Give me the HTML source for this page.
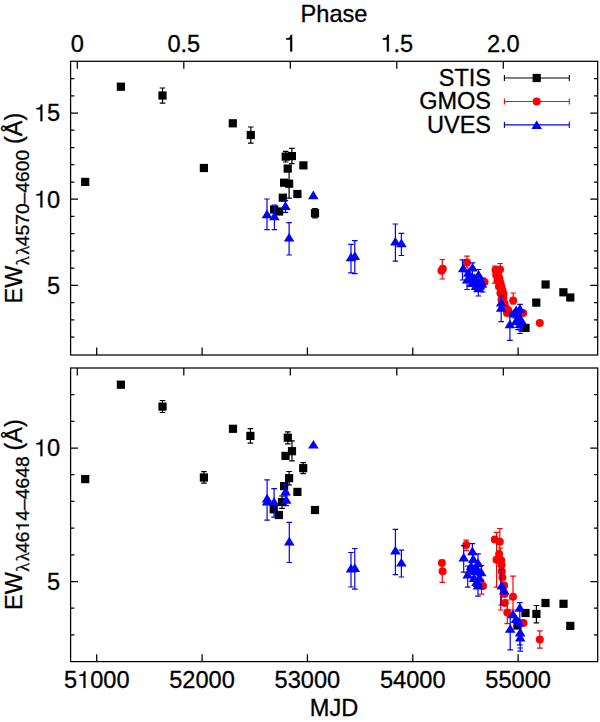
<!DOCTYPE html>
<html><head><meta charset="utf-8"><title>EW vs MJD</title>
<style>html,body{margin:0;padding:0;background:#fff}svg{display:block}</style>
</head><body>
<svg width="600" height="722" viewBox="0 0 600 722">
<rect width="600" height="722" fill="#fff"/>
<g fill="#000" stroke="none">
<path fill="none" stroke="#000" stroke-width="1.2" d="M162.5 88.0V103.2M159.7 88.0h5.6M159.7 103.2h5.6M250.8 127.0V143.2M248.0 127.0h5.6M248.0 143.2h5.6M285.7 151.3V162.0M282.9 151.3h5.6M282.9 162.0h5.6M291.9 148.3V163.6M289.1 148.3h5.6M289.1 163.6h5.6M289.1 170.7V198.2M286.3 170.7h5.6M286.3 198.2h5.6M315.1 208.7V217.8M312.2 208.7h5.6M312.2 217.8h5.6"/>
<rect x="81.1" y="177.8" width="8.2" height="8.2"/>
<rect x="116.8" y="82.6" width="8.2" height="8.2"/>
<rect x="158.4" y="91.4" width="8.2" height="8.2"/>
<rect x="199.8" y="163.9" width="8.2" height="8.2"/>
<rect x="228.7" y="119.2" width="8.2" height="8.2"/>
<rect x="246.7" y="130.9" width="8.2" height="8.2"/>
<rect x="281.6" y="152.5" width="8.2" height="8.2"/>
<rect x="287.8" y="152.0" width="8.2" height="8.2"/>
<rect x="299.3" y="161.3" width="8.2" height="8.2"/>
<rect x="283.6" y="164.5" width="8.2" height="8.2"/>
<rect x="280.0" y="178.6" width="8.2" height="8.2"/>
<rect x="285.0" y="179.6" width="8.2" height="8.2"/>
<rect x="293.3" y="189.9" width="8.2" height="8.2"/>
<rect x="278.7" y="193.6" width="8.2" height="8.2"/>
<rect x="270.0" y="205.4" width="8.2" height="8.2"/>
<rect x="275.0" y="207.4" width="8.2" height="8.2"/>
<rect x="310.9" y="209.1" width="8.2" height="8.2"/>
<rect x="541.5" y="280.4" width="8.2" height="8.2"/>
<rect x="532.2" y="298.5" width="8.2" height="8.2"/>
<rect x="521.4" y="323.8" width="8.2" height="8.2"/>
<rect x="559.3" y="288.2" width="8.2" height="8.2"/>
<rect x="566.2" y="293.4" width="8.2" height="8.2"/>
</g>
<g fill="#f00" stroke="none">
<path fill="none" stroke="#f00" stroke-width="1.2" d="M442.3 259.5V279.0M439.5 259.5h5.6M439.5 279.0h5.6M467.0 256.2V268.0M464.2 256.2h5.6M464.2 268.0h5.6M500.2 263.5V276.0M497.4 263.5h5.6M497.4 276.0h5.6M494.6 266.0V283.2M491.8 266.0h5.6M491.8 283.2h5.6M513.2 293.0V304.0M510.4 293.0h5.6M510.4 304.0h5.6"/>
<circle cx="442.8" cy="268.7" r="4.0"/>
<circle cx="441.5" cy="270.8" r="4.0"/>
<circle cx="467.0" cy="262.5" r="4.0"/>
<circle cx="484.5" cy="282.0" r="4.0"/>
<circle cx="495.5" cy="270.0" r="4.0"/>
<circle cx="500.0" cy="269.5" r="4.0"/>
<circle cx="498.0" cy="275.0" r="4.0"/>
<circle cx="499.5" cy="279.0" r="4.0"/>
<circle cx="500.5" cy="283.0" r="4.0"/>
<circle cx="501.5" cy="287.0" r="4.0"/>
<circle cx="502.5" cy="290.5" r="4.0"/>
<circle cx="503.5" cy="294.0" r="4.0"/>
<circle cx="503.2" cy="298.5" r="4.0"/>
<circle cx="504.5" cy="303.5" r="4.0"/>
<circle cx="506.0" cy="308.0" r="4.0"/>
<circle cx="508.3" cy="310.3" r="4.0"/>
<circle cx="507.0" cy="313.0" r="4.0"/>
<circle cx="513.2" cy="300.5" r="4.0"/>
<circle cx="523.2" cy="313.0" r="4.0"/>
<circle cx="539.8" cy="322.9" r="4.0"/>
<circle cx="496.2" cy="275.0" r="4.0"/>
<circle cx="497.4" cy="280.5" r="4.0"/>
<circle cx="498.9" cy="286.5" r="4.0"/>
<circle cx="500.4" cy="293.0" r="4.0"/>
<circle cx="501.5" cy="299.5" r="4.0"/>
<circle cx="502.3" cy="304.0" r="4.0"/>
</g>
<g fill="#00f" stroke="none">
<path fill="none" stroke="#00f" stroke-width="1.2" d="M267.0 199.0V229.7M264.2 199.0h5.6M264.2 229.7h5.6M274.4 205.0V229.7M271.6 205.0h5.6M271.6 229.7h5.6M285.4 200.7V212.3M282.6 200.7h5.6M282.6 212.3h5.6M289.1 222.6V255.0M286.3 222.6h5.6M286.3 255.0h5.6M351.0 244.3V272.8M348.2 244.3h5.6M348.2 272.8h5.6M354.8 240.6V273.7M352.0 240.6h5.6M352.0 273.7h5.6M395.4 224.0V261.1M392.6 224.0h5.6M392.6 261.1h5.6M401.4 233.4V255.5M398.6 233.4h5.6M398.6 255.5h5.6M462.5 259.8V280.0M459.7 259.8h5.6M459.7 280.0h5.6M472.5 262.8V275.0M469.7 262.8h5.6M469.7 275.0h5.6M467.0 272.0V289.5M464.2 272.0h5.6M464.2 289.5h5.6M478.5 269.5V284.0M475.7 269.5h5.6M475.7 284.0h5.6M478.3 280.0V296.0M475.5 280.0h5.6M475.5 296.0h5.6M483.0 278.0V292.0M480.2 278.0h5.6M480.2 292.0h5.6M501.2 296.0V321.6M498.4 296.0h5.6M498.4 321.6h5.6M509.9 312.0V340.3M507.1 312.0h5.6M507.1 340.3h5.6M520.1 304.3V333.5M517.3 304.3h5.6M517.3 333.5h5.6M518.0 310.0V329.7M515.2 310.0h5.6M515.2 329.7h5.6M521.0 312.0V331.0M518.2 312.0h5.6M518.2 331.0h5.6"/>
<path d="M267.0 209.6L272.3 218.2H261.7Z"/>
<path d="M274.4 211.6L279.7 220.2H269.1Z"/>
<path d="M285.4 201.2L290.7 209.9H280.1Z"/>
<path d="M289.1 232.9L294.4 241.6H283.8Z"/>
<path d="M313.3 190.6L318.6 199.2H308.0Z"/>
<path d="M351.0 252.6L356.3 261.2H345.7Z"/>
<path d="M354.8 251.2L360.1 259.9H349.5Z"/>
<path d="M395.4 236.9L400.7 245.6H390.1Z"/>
<path d="M401.4 238.6L406.7 247.2H396.1Z"/>
<path d="M463.2 263.6L468.5 272.3H457.9Z"/>
<path d="M472.5 262.9L477.8 271.6H467.2Z"/>
<path d="M467.2 274.9L472.5 283.6H461.9Z"/>
<path d="M468.3 268.1L473.6 276.7H463.0Z"/>
<path d="M470.6 271.6L475.9 280.3H465.3Z"/>
<path d="M478.5 269.9L483.8 278.5H473.2Z"/>
<path d="M474.3 273.2L479.6 281.9H469.0Z"/>
<path d="M476.5 276.8L481.8 285.4H471.2Z"/>
<path d="M472.0 278.2L477.3 286.9H466.7Z"/>
<path d="M481.0 276.2L486.3 284.9H475.7Z"/>
<path d="M478.5 283.6L483.8 292.2H473.2Z"/>
<path d="M482.0 279.1L487.3 287.7H476.7Z"/>
<path d="M476.0 281.2L481.3 289.9H470.7Z"/>
<path d="M480.0 280.9L485.3 289.5H474.7Z"/>
<path d="M501.2 297.9L506.5 306.6H495.9Z"/>
<path d="M501.2 303.1L506.5 311.8H495.9Z"/>
<path d="M509.9 319.6L515.2 328.2H504.6Z"/>
<path d="M519.9 304.1L525.2 312.7H514.6Z"/>
<path d="M516.2 305.6L521.5 314.2H510.9Z"/>
<path d="M513.7 308.9L519.0 317.5H508.4Z"/>
<path d="M517.5 309.8L522.8 318.4H512.2Z"/>
<path d="M519.0 312.2L524.3 320.9H513.7Z"/>
<path d="M521.5 315.8L526.8 324.4H516.2Z"/>
<path d="M516.0 316.2L521.3 324.9H510.7Z"/>
<path d="M520.0 319.2L525.3 327.9H514.7Z"/>
</g>
<g fill="#000" stroke="none">
<path fill="none" stroke="#000" stroke-width="1.2" d="M162.5 400.5V412.5M159.7 400.5h5.6M159.7 412.5h5.6M203.9 471.7V483.1M201.1 471.7h5.6M201.1 483.1h5.6M250.4 428.7V443.2M247.6 428.7h5.6M247.6 443.2h5.6M287.8 431.8V443.9M285.0 431.8h5.6M285.0 443.9h5.6M292.0 440.8V460.9M289.2 440.8h5.6M289.2 460.9h5.6M303.2 462.6V473.6M300.4 462.6h5.6M300.4 473.6h5.6M289.1 471.5V484.8M286.3 471.5h5.6M286.3 484.8h5.6M282.0 496.0V508.3M279.2 496.0h5.6M279.2 508.3h5.6M536.4 605.5V622.9M533.6 605.5h5.6M533.6 622.9h5.6"/>
<rect x="81.1" y="475.0" width="8.2" height="8.2"/>
<rect x="116.8" y="380.6" width="8.2" height="8.2"/>
<rect x="158.4" y="402.5" width="8.2" height="8.2"/>
<rect x="199.8" y="473.4" width="8.2" height="8.2"/>
<rect x="228.9" y="424.7" width="8.2" height="8.2"/>
<rect x="246.3" y="431.8" width="8.2" height="8.2"/>
<rect x="283.7" y="433.6" width="8.2" height="8.2"/>
<rect x="287.9" y="447.1" width="8.2" height="8.2"/>
<rect x="281.4" y="451.8" width="8.2" height="8.2"/>
<rect x="299.1" y="464.1" width="8.2" height="8.2"/>
<rect x="285.0" y="474.1" width="8.2" height="8.2"/>
<rect x="280.0" y="482.0" width="8.2" height="8.2"/>
<rect x="293.3" y="487.8" width="8.2" height="8.2"/>
<rect x="277.9" y="497.9" width="8.2" height="8.2"/>
<rect x="269.6" y="505.2" width="8.2" height="8.2"/>
<rect x="274.8" y="510.9" width="8.2" height="8.2"/>
<rect x="310.9" y="505.9" width="8.2" height="8.2"/>
<rect x="541.4" y="598.9" width="8.2" height="8.2"/>
<rect x="559.4" y="599.7" width="8.2" height="8.2"/>
<rect x="566.2" y="621.8" width="8.2" height="8.2"/>
<rect x="532.3" y="609.8" width="8.2" height="8.2"/>
<rect x="521.4" y="608.9" width="8.2" height="8.2"/>
<rect x="513.4" y="621.4" width="8.2" height="8.2"/>
</g>
<g fill="#f00" stroke="none">
<path fill="none" stroke="#f00" stroke-width="1.2" d="M442.3 560.0V582.3M439.5 560.0h5.6M439.5 582.3h5.6M466.2 540.2V550.6M463.4 540.2h5.6M463.4 550.6h5.6M481.6 580.0V594.2M478.8 580.0h5.6M478.8 594.2h5.6M496.6 532.4V587.2M493.8 532.4h5.6M493.8 587.2h5.6M499.8 528.5V556.0M497.0 528.5h5.6M497.0 556.0h5.6M500.6 548.0V610.0M497.8 548.0h5.6M497.8 610.0h5.6M513.0 576.2V610.0M510.2 576.2h5.6M510.2 610.0h5.6M507.3 600.0V623.6M504.5 600.0h5.6M504.5 623.6h5.6M539.8 630.9V648.2M537.0 630.9h5.6M537.0 648.2h5.6"/>
<circle cx="441.9" cy="563.0" r="4.0"/>
<circle cx="442.6" cy="571.2" r="4.0"/>
<circle cx="466.2" cy="545.0" r="4.0"/>
<circle cx="483.0" cy="586.1" r="4.0"/>
<circle cx="494.8" cy="539.4" r="4.0"/>
<circle cx="499.8" cy="541.8" r="4.0"/>
<circle cx="499.1" cy="553.9" r="4.0"/>
<circle cx="496.5" cy="559.7" r="4.0"/>
<circle cx="501.1" cy="560.2" r="4.0"/>
<circle cx="501.6" cy="565.1" r="4.0"/>
<circle cx="501.8" cy="571.5" r="4.0"/>
<circle cx="502.4" cy="577.4" r="4.0"/>
<circle cx="504.1" cy="585.6" r="4.0"/>
<circle cx="504.5" cy="594.0" r="4.0"/>
<circle cx="504.8" cy="603.0" r="4.0"/>
<circle cx="507.3" cy="612.4" r="4.0"/>
<circle cx="513.0" cy="596.8" r="4.0"/>
<circle cx="523.5" cy="623.0" r="4.0"/>
<circle cx="539.8" cy="639.6" r="4.0"/>
</g>
<g fill="#00f" stroke="none">
<path fill="none" stroke="#00f" stroke-width="1.2" d="M267.1 479.8V520.1M264.3 479.8h5.6M264.3 520.1h5.6M274.1 488.6V517.2M271.3 488.6h5.6M271.3 517.2h5.6M285.5 484.8V496.0M282.7 484.8h5.6M282.7 496.0h5.6M286.2 492.0V505.6M283.4 492.0h5.6M283.4 505.6h5.6M289.3 522.4V562.5M286.5 522.4h5.6M286.5 562.5h5.6M351.0 552.5V587.0M348.2 552.5h5.6M348.2 587.0h5.6M354.8 548.5V589.1M352.0 548.5h5.6M352.0 589.1h5.6M395.4 529.4V574.7M392.6 529.4h5.6M392.6 574.7h5.6M401.4 550.2V577.0M398.6 550.2h5.6M398.6 577.0h5.6M463.7 545.6V572.1M460.9 545.6h5.6M460.9 572.1h5.6M472.4 543.7V560.0M469.6 543.7h5.6M469.6 560.0h5.6M467.7 566.0V587.1M464.9 566.0h5.6M464.9 587.1h5.6M478.0 553.9V572.0M475.2 553.9h5.6M475.2 572.0h5.6M481.2 565.5V580.0M478.4 565.5h5.6M478.4 580.0h5.6M478.0 574.0V596.1M475.2 574.0h5.6M475.2 596.1h5.6M501.3 569.4V605.0M498.5 569.4h5.6M498.5 605.0h5.6M510.2 617.0V649.9M507.4 617.0h5.6M507.4 649.9h5.6M519.8 602.7V644.8M517.0 602.7h5.6M517.0 644.8h5.6M520.2 620.0V648.0M517.4 620.0h5.6M517.4 648.0h5.6M520.2 626.0V651.1M517.4 626.0h5.6M517.4 651.1h5.6"/>
<path d="M267.1 493.8L272.4 502.4H261.8Z"/>
<path d="M267.1 496.8L272.4 505.4H261.8Z"/>
<path d="M274.1 497.2L279.4 505.9H268.8Z"/>
<path d="M285.5 486.8L290.8 495.4H280.2Z"/>
<path d="M286.2 495.1L291.5 503.7H280.9Z"/>
<path d="M289.3 536.8L294.6 545.4H284.0Z"/>
<path d="M313.4 439.9L318.7 448.5H308.1Z"/>
<path d="M351.0 563.8L356.3 572.4H345.7Z"/>
<path d="M354.8 563.2L360.1 571.9H349.5Z"/>
<path d="M395.4 545.8L400.7 554.4H390.1Z"/>
<path d="M401.4 558.0L406.7 566.6H396.1Z"/>
<path d="M463.7 552.8L469.0 561.4H458.4Z"/>
<path d="M472.4 546.5L477.7 555.2H467.1Z"/>
<path d="M467.7 569.9L473.0 578.5H462.4Z"/>
<path d="M478.0 558.2L483.3 566.9H472.7Z"/>
<path d="M471.2 561.2L476.5 569.9H465.9Z"/>
<path d="M481.2 567.6L486.5 576.3H475.9Z"/>
<path d="M475.5 566.2L480.8 574.9H470.2Z"/>
<path d="M478.0 578.2L483.3 586.9H472.7Z"/>
<path d="M478.0 580.8L483.3 589.4H472.7Z"/>
<path d="M474.0 573.2L479.3 581.9H468.7Z"/>
<path d="M473.2 554.2L478.5 562.9H467.9Z"/>
<path d="M470.0 565.2L475.3 573.9H464.7Z"/>
<path d="M476.0 562.2L481.3 570.9H470.7Z"/>
<path d="M479.5 573.2L484.8 581.9H474.2Z"/>
<path d="M476.5 577.2L481.8 585.9H471.2Z"/>
<path d="M501.8 580.8L507.1 589.4H496.5Z"/>
<path d="M504.2 586.0L509.5 594.6H498.9Z"/>
<path d="M510.2 624.1L515.5 632.8H504.9Z"/>
<path d="M519.8 603.0L525.1 611.7H514.5Z"/>
<path d="M513.0 609.6L518.3 618.3H507.7Z"/>
<path d="M516.0 614.5L521.3 623.1H510.7Z"/>
<path d="M518.6 617.2L523.9 625.9H513.3Z"/>
<path d="M520.2 627.8L525.5 636.4H514.9Z"/>
<path d="M520.2 632.8L525.5 641.4H514.9Z"/>
</g>
<g fill="none" stroke="#000" stroke-width="1.25">
<path d="M70.6 337.1h3.8M597.7 337.1h-3.8M70.6 319.9h3.8M597.7 319.9h-3.8M70.6 302.6h3.8M597.7 302.6h-3.8M70.6 285.4h7.4M597.7 285.4h-7.4M70.6 268.2h3.8M597.7 268.2h-3.8M70.6 250.9h3.8M597.7 250.9h-3.8M70.6 233.7h3.8M597.7 233.7h-3.8M70.6 216.4h3.8M597.7 216.4h-3.8M70.6 199.2h7.4M597.7 199.2h-7.4M70.6 182.0h3.8M597.7 182.0h-3.8M70.6 164.7h3.8M597.7 164.7h-3.8M70.6 147.5h3.8M597.7 147.5h-3.8M70.6 130.2h3.8M597.7 130.2h-3.8M70.6 113.0h7.4M597.7 113.0h-7.4M70.6 95.8h3.8M597.7 95.8h-3.8M70.6 78.5h3.8M597.7 78.5h-3.8M70.6 634.9h3.8M597.7 634.9h-3.8M70.6 608.2h3.8M597.7 608.2h-3.8M70.6 581.5h7.4M597.7 581.5h-7.4M70.6 554.8h3.8M597.7 554.8h-3.8M70.6 528.1h3.8M597.7 528.1h-3.8M70.6 501.4h3.8M597.7 501.4h-3.8M70.6 474.7h3.8M597.7 474.7h-3.8M70.6 448.0h7.4M597.7 448.0h-7.4M70.6 421.3h3.8M597.7 421.3h-3.8M70.6 394.6h3.8M597.7 394.6h-3.8M96.7 355.0v-7.4M96.7 661.6v-7.4M202.1 355.0v-7.4M202.1 661.6v-7.4M307.4 355.0v-7.4M307.4 661.6v-7.4M412.8 355.0v-7.4M412.8 661.6v-7.4M518.1 355.0v-7.4M518.1 661.6v-7.4M77.3 61.3v7.4M77.3 368.0v7.4M183.8 61.3v7.4M183.8 368.0v7.4M290.3 61.3v7.4M290.3 368.0v7.4M396.8 61.3v7.4M396.8 368.0v7.4M503.3 61.3v7.4M503.3 368.0v7.4"/>
<rect x="70.6" y="61.3" width="527.1" height="293.7"/>
<rect x="70.6" y="368.0" width="527.1" height="293.6"/>
</g>
<g font-family="Liberation Sans, sans-serif" font-size="23.6" fill="#000" stroke="#000" stroke-width="0.3">
<g transform="translate(77.30 51.60)" font-size="23.6"><text x="-6.56" y="0">0</text></g>
<g transform="translate(183.80 51.60)" font-size="23.6"><text x="-16.40" y="0">0.5</text></g>
<g transform="translate(290.30 51.60)" font-size="23.6"><polygon points="1.91,0.00 -0.14,0.00 -0.14,-11.92 -4.15,-11.92 -4.15,-13.40 -2.08,-13.55 -0.38,-14.23 0.28,-16.73 1.91,-16.73" stroke-width="0.15"/></g>
<g transform="translate(396.80 51.60)" font-size="23.6"><polygon points="-7.93,0.00 -9.98,0.00 -9.98,-11.92 -13.99,-11.92 -13.99,-13.40 -11.92,-13.55 -10.22,-14.23 -9.56,-16.73 -7.93,-16.73" stroke-width="0.15"/><text x="-3.28" y="0">.5</text></g>
<g transform="translate(503.30 51.60)" font-size="23.6"><text x="-16.40" y="0">2.0</text></g>
<g transform="translate(96.70 687.90)" font-size="23.6"><text x="-32.80" y="0">5</text><polygon points="-11.21,0.00 -13.26,0.00 -13.26,-11.92 -17.28,-11.92 -17.28,-13.40 -15.20,-13.55 -13.50,-14.23 -12.84,-16.73 -11.21,-16.73" stroke-width="0.15"/><text x="-6.56" y="0">000</text></g>
<g transform="translate(202.05 687.90)" font-size="23.6"><text x="-32.80" y="0">52000</text></g>
<g transform="translate(307.40 687.90)" font-size="23.6"><text x="-32.80" y="0">53000</text></g>
<g transform="translate(412.75 687.90)" font-size="23.6"><text x="-32.80" y="0">54000</text></g>
<g transform="translate(518.10 687.90)" font-size="23.6"><text x="-32.80" y="0">55000</text></g>
<g transform="translate(60.20 293.70)" font-size="23.6"><text x="-13.12" y="0">5</text></g>
<g transform="translate(60.20 207.50)" font-size="23.6"><polygon points="-17.77,0.00 -19.82,0.00 -19.82,-11.92 -23.84,-11.92 -23.84,-13.40 -21.76,-13.55 -20.06,-14.23 -19.40,-16.73 -17.77,-16.73" stroke-width="0.15"/><text x="-13.12" y="0">0</text></g>
<g transform="translate(60.20 121.30)" font-size="23.6"><polygon points="-17.77,0.00 -19.82,0.00 -19.82,-11.92 -23.84,-11.92 -23.84,-13.40 -21.76,-13.55 -20.06,-14.23 -19.40,-16.73 -17.77,-16.73" stroke-width="0.15"/><text x="-13.12" y="0">5</text></g>
<g transform="translate(60.20 589.80)" font-size="23.6"><text x="-13.12" y="0">5</text></g>
<g transform="translate(60.20 456.30)" font-size="23.6"><polygon points="-17.77,0.00 -19.82,0.00 -19.82,-11.92 -23.84,-11.92 -23.84,-13.40 -21.76,-13.55 -20.06,-14.23 -19.40,-16.73 -17.77,-16.73" stroke-width="0.15"/><text x="-13.12" y="0">0</text></g>
<text x="334" y="22" text-anchor="middle">Phase</text>
<text x="334" y="716.4" text-anchor="middle">MJD</text>
<text x="491" y="85.8" text-anchor="end" font-size="23.5">STIS</text>
<text x="491" y="109" text-anchor="end" font-size="23.5">GMOS</text>
<text x="491" y="132.9" text-anchor="end" font-size="23.5">UVES</text>
<text transform="translate(22.0 303.4) rotate(-90)" font-size="23.5">EW</text>
<text transform="translate(28.9 265.2) rotate(-90)" font-size="18.6" letter-spacing="1.5" font-family="Liberation Serif, serif">λλ</text>
<g transform="translate(28.90 246.30) rotate(-90) scale(1 0.94)" font-size="19.3"><text x="0.00" y="0">4570–4600</text></g>
<text transform="translate(22.0 144.0) rotate(-90)" font-size="23.5">(Å)</text>
<text transform="translate(22.0 610.0) rotate(-90)" font-size="23.5">EW</text>
<text transform="translate(28.9 571.8) rotate(-90)" font-size="18.6" letter-spacing="1.5" font-family="Liberation Serif, serif">λλ</text>
<g transform="translate(28.90 552.90) rotate(-90) scale(1 0.94)" font-size="19.3"><text x="0.00" y="0">46</text><polygon points="28.39,0.00 26.71,0.00 26.71,-9.75 23.43,-9.75 23.43,-10.96 25.13,-11.08 26.52,-11.64 27.06,-13.68 28.39,-13.68" stroke-width="0.15"/><text x="32.19" y="0">4–4648</text></g>
<text transform="translate(22.0 450.6) rotate(-90)" font-size="23.5">(Å)</text>
</g>
<g fill="#000"><path fill="none" stroke="#000" stroke-width="1.1" d="M504.4 78.0H569.3M504.4 74.9v6.2M569.3 74.9v6.2"/>
<rect x="532.6" y="73.9" width="8.2" height="8.2"/>
</g>
<g fill="#f00"><path fill="none" stroke="#f00" stroke-width="1.1" d="M504.4 101.5H569.3M504.4 98.4v6.2M569.3 98.4v6.2"/>
<circle cx="536.7" cy="101.5" r="4.0"/>
</g>
<g fill="#00f"><path fill="none" stroke="#00f" stroke-width="1.1" d="M504.4 124.9H569.3M504.4 121.80000000000001v6.2M569.3 121.80000000000001v6.2"/>
<path d="M536.7 120.4L542.0 129.0H531.4Z"/>
</g>
</svg>
</body></html>
